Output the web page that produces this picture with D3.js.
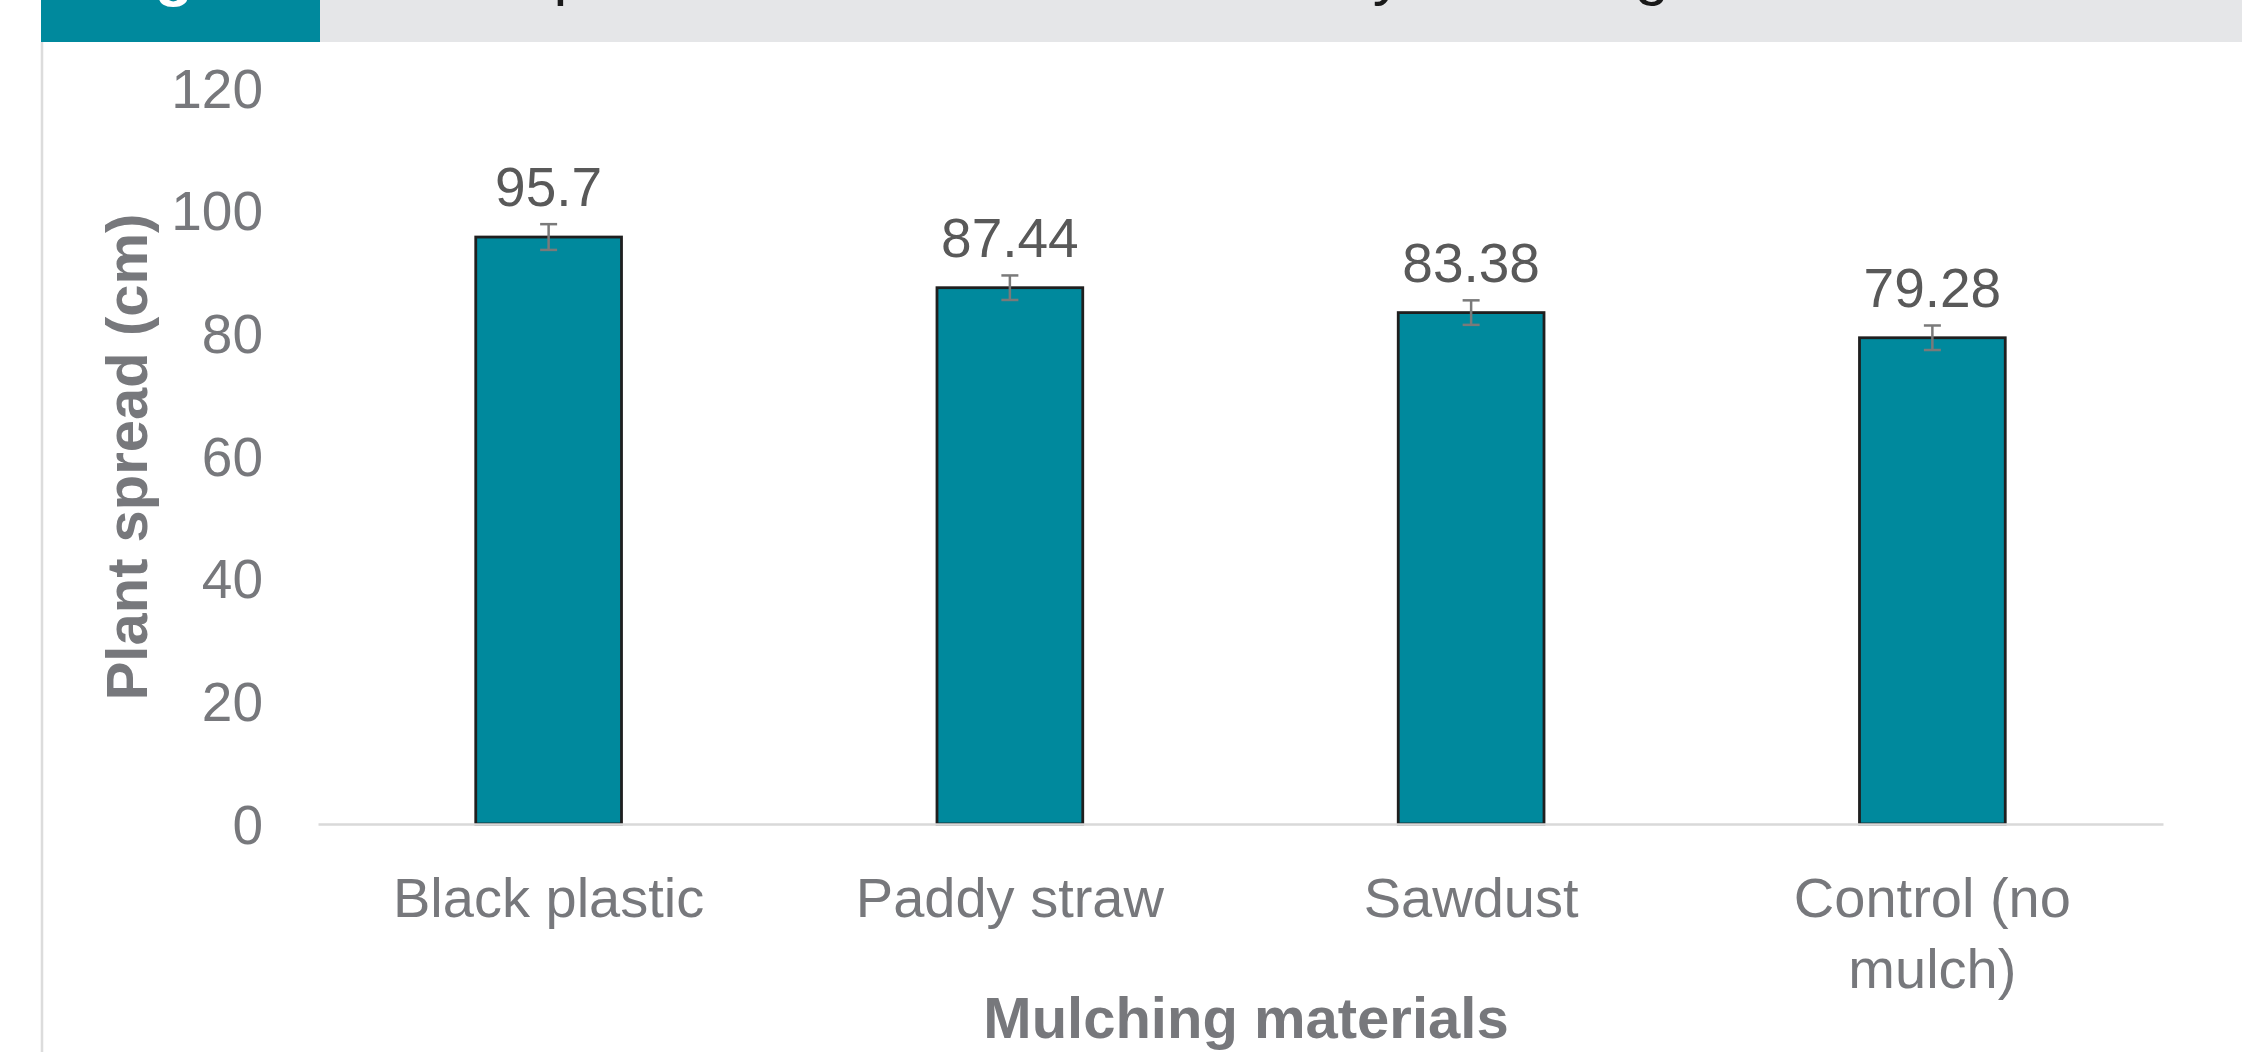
<!DOCTYPE html>
<html>
<head>
<meta charset="utf-8">
<script src="https://cdn.jsdelivr.net/npm/d3@7"></script>
<style>
  html, body { margin: 0; padding: 0; background: #ffffff; }
  svg { display: block; }
</style>
</head>
<body>
<svg id="chart" width="2242" height="1052"></svg>
<script>
// ---- data ----
const categories = ["Black plastic", "Paddy straw", "Sawdust", "Control (no mulch)"];
const categoryLines = [["Black plastic"], ["Paddy straw"], ["Sawdust"], ["Control (no", "mulch)"]];
const plantSpread = [95.7, 87.44, 83.38, 79.28];
const errorValues = [2.1, 2.0, 2.0, 2.0];
const valueLabels = ["95.7", "87.44", "83.38", "79.28"];
const yTicks = [0, 20, 40, 60, 80, 100, 120];
const yAxisTitle = "Plant spread (cm)";
const xAxisTitle = "Mulching materials";
const figLabel = "Fig";
const headerTitle = "Plant spread at harvest as affected by mulching";

// ---- layout ----
const W = 2242, H = 1052;
const svg = d3.select("#chart");
const teal = "#00899d";
const font = "'Liberation Sans', Arial, sans-serif";

// header bands
svg.append("rect").attr("x", 41).attr("y", 0).attr("width", 279).attr("height", 42).attr("fill", teal);
svg.append("rect").attr("x", 320).attr("y", 0).attr("width", W - 320).attr("height", 42).attr("fill", "#e5e6e8");
svg.append("text").attr("x", 100).attr("y", -6).attr("fill", "#ffffff")
  .attr("font-family", font).attr("font-weight", "bold").attr("font-size", 62).text(figLabel);
svg.append("text").attr("x", 364).attr("y", -7).attr("fill", "#1a1a1a")
  .attr("font-family", font).attr("font-size", 62).text(headerTitle);

// left border line
svg.append("line").attr("x1", 42).attr("x2", 42).attr("y1", 42).attr("y2", H)
  .attr("stroke", "#dcdcdc").attr("stroke-width", 2.5);

// scales
const y = d3.scaleLinear().domain([0, 120]).range([824, 88]);
const x = d3.scaleBand().domain(categories).range([318, 2163]).paddingInner(0.684).paddingOuter(0.342);

// y axis tick labels
const yAxis = svg.append("g").attr("transform", "translate(263,0)")
  .call(d3.axisLeft(y).tickValues(yTicks).tickSize(0).tickPadding(0).tickFormat(d3.format("d")));
yAxis.select(".domain").remove();
yAxis.selectAll("text").attr("font-family", font).attr("font-size", 55).attr("fill", "#77787c").attr("dy", "0.35em");

// bars
svg.append("g").selectAll("rect").data(plantSpread).join("rect")
  .attr("x", (d, i) => x(categories[i]))
  .attr("y", d => y(d))
  .attr("width", x.bandwidth())
  .attr("height", d => y(0) - y(d))
  .attr("fill", teal)
  .attr("stroke", "#1f1f1f")
  .attr("stroke-width", 2.8);

// x axis baseline
const xAxis = svg.append("g").attr("transform", "translate(0,824)")
  .call(d3.axisBottom(x).tickSize(0).tickFormat(""));
xAxis.select(".domain").attr("stroke", "#d9d9d9").attr("stroke-width", 2.5);

// error bars
const eb = svg.append("g").attr("stroke", "#7a7a7a").attr("stroke-width", 2.5);
plantSpread.forEach((v, i) => {
  const cx = x(categories[i]) + x.bandwidth() / 2;
  const e = errorValues[i];
  eb.append("line").attr("x1", cx).attr("x2", cx).attr("y1", y(v + e)).attr("y2", y(v - e));
  eb.append("line").attr("x1", cx - 8.5).attr("x2", cx + 8.5).attr("y1", y(v + e)).attr("y2", y(v + e));
  eb.append("line").attr("x1", cx - 8.5).attr("x2", cx + 8.5).attr("y1", y(v - e)).attr("y2", y(v - e));
});

// value labels
svg.append("g").selectAll("text").data(plantSpread).join("text")
  .attr("x", (d, i) => x(categories[i]) + x.bandwidth() / 2)
  .attr("y", d => y(d) - 31)
  .attr("text-anchor", "middle")
  .attr("font-family", font).attr("font-size", 55).attr("fill", "#595959")
  .text((d, i) => valueLabels[i]);

// x tick labels (wrapped)
const xl = svg.append("g");
categories.forEach((c, i) => {
  const cx = x(c) + x.bandwidth() / 2;
  const t = xl.append("text").attr("text-anchor", "middle")
    .attr("font-family", font).attr("font-size", 56).attr("fill", "#77787c");
  categoryLines[i].forEach((line, j) => {
    t.append("tspan").attr("x", cx).attr("y", 917 + j * 71).text(line);
  });
});

// axis titles
svg.append("text").attr("x", 1246).attr("y", 1038).attr("text-anchor", "middle")
  .attr("font-family", font).attr("font-weight", "bold").attr("font-size", 58).attr("fill", "#77787c")
  .text(xAxisTitle);
svg.append("text").attr("transform", "translate(147,457) rotate(-90)").attr("text-anchor", "middle")
  .attr("font-family", font).attr("font-weight", "bold").attr("font-size", 58).attr("fill", "#77787c")
  .text(yAxisTitle);
</script>
</body>
</html>
